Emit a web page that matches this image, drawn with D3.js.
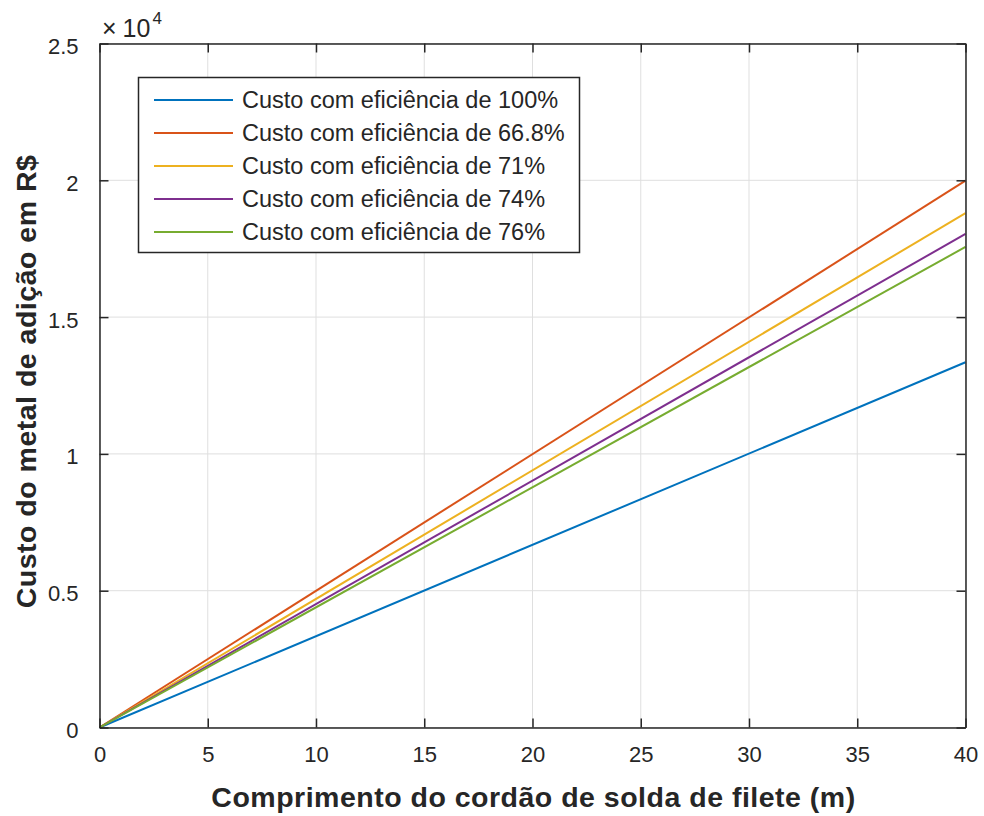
<!DOCTYPE html>
<html>
<head>
<meta charset="utf-8">
<script src="https://cdn.jsdelivr.net/npm/d3@7"></script>
<style>
  html, body { margin: 0; padding: 0; background: #fff; }
  svg { display: block; }
  text { font-family: Arial, "Liberation Sans", Helvetica, sans-serif; fill: #262626; }
</style>
</head>
<body>
<svg id="chart" width="984" height="816"></svg>
<script>
// Weld length (m) at the start and end of each cost line
const comprimento = [0, 40];

// Filler-metal cost (R$) for each deposition efficiency
const eficiencias = ["100%", "66.8%", "71%", "74%", "76%"];
const custo100 = [0, 13350];
const custo668 = [0, 19985];
const custo71 = [0, 18800];
const custo74 = [0, 18040];
const custo76 = [0, 17565];

const xTicks = [0, 5, 10, 15, 20, 25, 30, 35, 40];
const yTicks = [0, 5000, 10000, 15000, 20000, 25000];
const yTickLabels = ["0", "0.5", "1", "1.5", "2", "2.5"];

const cores = ["#0072BD", "#D95319", "#EDB120", "#7E2F8E", "#77AC30"];
const series = [custo100, custo668, custo71, custo74, custo76].map((v, i) => ({
  nome: "Custo com eficiência de " + eficiencias[i],
  cor: cores[i],
  pts: comprimento.map((x, j) => [x, v[j]])
}));

const svg = d3.select("#chart");
const m = { left: 99.5, right: 965.5, top: 43.5, bottom: 727.5 };

const x = d3.scaleLinear().domain([0, 40]).range([m.left, m.right]);
const y = d3.scaleLinear().domain([0, 25000]).range([m.bottom, m.top]);

// grid
const grid = svg.append("g").attr("stroke", "#dfdfdf").attr("stroke-width", 1);
xTicks.forEach(t => grid.append("line")
  .attr("x1", x(t)).attr("x2", x(t)).attr("y1", m.top).attr("y2", m.bottom));
yTicks.forEach(t => grid.append("line")
  .attr("x1", m.left).attr("x2", m.right).attr("y1", y(t)).attr("y2", y(t)));

// series lines
const line = d3.line().x(d => x(d[0])).y(d => y(d[1]));
svg.append("g").selectAll("path").data(series).join("path")
  .attr("d", d => line(d.pts))
  .attr("fill", "none")
  .attr("stroke", d => d.cor)
  .attr("stroke-width", 2);

// axes with inward ticks on all four sides
const tickLen = 9;
const axColor = "#262626";
function styleAxis(g) {
  g.selectAll("path.domain").attr("stroke", axColor).attr("stroke-width", 1.5);
  g.selectAll(".tick line").attr("stroke", axColor).attr("stroke-width", 1.5);
  g.selectAll(".tick text").attr("fill", axColor)
    .style("font-family", "Arial, 'Liberation Sans', sans-serif")
    .style("font-size", "22px");
}

const xBottom = svg.append("g").attr("transform", `translate(0,${m.bottom})`)
  .call(d3.axisBottom(x).tickValues(xTicks).tickSizeInner(-tickLen).tickSizeOuter(0).tickPadding(19).tickFormat(d3.format("d")));
styleAxis(xBottom);

const xTop = svg.append("g").attr("transform", `translate(0,${m.top})`)
  .call(d3.axisTop(x).tickValues(xTicks).tickSizeInner(-tickLen).tickSizeOuter(0).tickFormat(""));
styleAxis(xTop);

const yLeft = svg.append("g").attr("transform", `translate(${m.left},0)`)
  .call(d3.axisLeft(y).tickValues(yTicks).tickSizeInner(-tickLen).tickSizeOuter(0).tickPadding(21)
    .tickFormat((d, i) => yTickLabels[i]));
styleAxis(yLeft);
yLeft.selectAll(".tick text").attr("dy", "0.45em");

const yRight = svg.append("g").attr("transform", `translate(${m.right},0)`)
  .call(d3.axisRight(y).tickValues(yTicks).tickSizeInner(-tickLen).tickSizeOuter(0).tickFormat(""));
styleAxis(yRight);

// exponent marker
const expo = svg.append("text").attr("x", 102).attr("y", 37)
  .style("font-size", "25px").attr("fill", axColor);
expo.append("tspan").text("×");
expo.append("tspan").attr("dx", 6).text("10");
expo.append("tspan").attr("dy", -13).attr("dx", 2).style("font-size", "17px").text("4");

// axis titles
svg.append("text")
  .attr("x", (m.left + m.right) / 2 + 1).attr("y", 807)
  .attr("text-anchor", "middle")
  .style("font-size", "28.5px").style("font-weight", "bold").style("letter-spacing", "0.5px")
  .text("Comprimento do cordão de solda de filete (m)");

svg.append("text")
  .attr("transform", `translate(36,${(m.top + m.bottom) / 2 - 4}) rotate(-90)`)
  .attr("text-anchor", "middle")
  .style("font-size", "28.5px").style("font-weight", "bold").style("letter-spacing", "0.5px")
  .text("Custo do metal de adição em R$");

// legend
const lg = svg.append("g");
lg.append("rect").attr("x", 138.5).attr("y", 77.5).attr("width", 441).attr("height", 175)
  .attr("fill", "#fff").attr("stroke", axColor).attr("stroke-width", 1.5);
series.forEach((s, i) => {
  const cy = 100 + i * 33;
  lg.append("line").attr("x1", 154).attr("x2", 233).attr("y1", cy).attr("y2", cy)
    .attr("stroke", s.cor).attr("stroke-width", 2);
  lg.append("text").attr("x", 242).attr("y", cy).attr("dy", "0.36em")
    .style("font-size", "23.5px").attr("fill", "#000").text(s.nome);
});
</script>
</body>
</html>
